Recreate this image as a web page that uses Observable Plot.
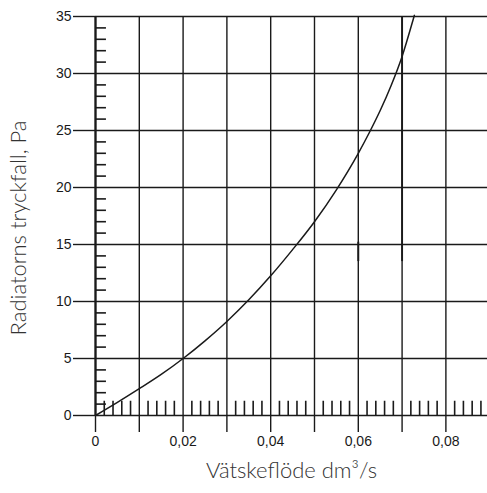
<!DOCTYPE html>
<html>
<head>
<meta charset="utf-8">
<script src="https://cdn.jsdelivr.net/npm/d3@7"></script>
<script src="https://cdn.jsdelivr.net/npm/@observablehq/plot@0.6"></script>
<style>
  html, body { margin: 0; padding: 0; background: #fff; }
  #chart svg { display: block; }
</style>
</head>
<body>
<div id="chart"></div>
<script>
// Curve: flow (dm³/s) -> pressure drop (Pa)
const flow = [0, 0.005, 0.01, 0.015, 0.02, 0.025, 0.03, 0.035, 0.04, 0.045, 0.05, 0.055, 0.06, 0.0625, 0.065, 0.0675, 0.07, 0.0725, 0.0728];
const pressure = [0, 1.15, 2.35, 3.6, 5.0, 6.55, 8.25, 10.15, 12.25, 14.55, 17.0, 19.8, 23.0, 24.8, 26.75, 28.95, 31.5, 34.7, 35.1];

const xMajor = [0, 0.01, 0.02, 0.03, 0.04, 0.05, 0.06, 0.07, 0.08];
const xLabeled = [0, 0.02, 0.04, 0.06, 0.08];
const yMajor = [0, 5, 10, 15, 20, 25, 30, 35];
const yMinor = d3.range(1, 35).filter(v => v % 5 !== 0);
const xMinor = d3.range(1, 45).filter(i => i % 5 !== 0).map(i => i * 0.002);
// heavier stretches of two grid lines seen in the original print
const heavyX = [0.06, 0.07];
const heavyFrom = [13.5, 13.5];
const heavyTo = [15.2, 35];

const xTitle = "Vätskeflöde dm³/s";
const yTitle = "Radiatorns tryckfall, Pa";

const curve = flow.map((f, i) => ({f, p: pressure[i]}));
const heavy = heavyX.map((x, i) => ({x, y1: heavyFrom[i], y2: heavyTo[i]}));
const ink = "#1a1a1a";
const fmt = d => d === 0 ? "0" : d.toFixed(2).replace(".", ",");
const titleFont = "Lato, 'Open Sans', sans-serif";

const chart = Plot.plot({
  width: 487,
  height: 493,
  marginLeft: 95,
  marginRight: 0,
  marginTop: 16,
  marginBottom: 78,
  style: {fontFamily: "'Liberation Sans', Arial, sans-serif", fontSize: "14px", color: ink, background: "#fff"},
  x: {domain: [0, 0.0895], axis: null, label: null},
  y: {domain: [0, 35], axis: null, label: null},
  marks: [
    // grid
    Plot.ruleX(xMajor, {stroke: ink, strokeWidth: 1.4}),
    Plot.ruleY(yMajor, {stroke: ink, strokeWidth: 1.4}),
    Plot.ruleX(heavy, {x: "x", y1: "y1", y2: "y2", stroke: ink, strokeWidth: 1.9}),
    // minor ticks
    Plot.ruleY(yMinor, {x1: 0, x2: 0.0025, stroke: ink, strokeWidth: 1.6}),
    Plot.ruleX(xMinor, {y1: 0, y2: 1.25, stroke: ink, strokeWidth: 1.6}),
    // left axis line heavier
    Plot.ruleX([0], {stroke: ink, strokeWidth: 2.2}),
    // axes with outward ticks
    Plot.axisY(yMajor, {label: null, tickSize: 22, tickPadding: 2, stroke: ink, strokeWidth: 1.4, fill: ink, fontSize: 14}),
    Plot.axisX(xMajor, {label: null, tickSize: 17, tickPadding: 4, stroke: ink, strokeWidth: 1.4, tickFormat: d => xLabeled.includes(d) ? fmt(d) : "", fill: ink, fontSize: 14}),
    // curve
    Plot.line(curve, {x: "f", y: "p", curve: "monotone-x", stroke: ink, strokeWidth: 1.5}),
    // titles
    Plot.text([xTitle], {frameAnchor: "bottom", dy: 62, fontSize: 22, fontFamily: titleFont, fontWeight: 300, fill: "#333"}),
    Plot.text([yTitle], {frameAnchor: "left", textAnchor: "middle", dx: -77, dy: 12, rotate: -90, fontSize: 22, fontFamily: titleFont, fontWeight: 300, fill: "#333"})
  ]
});
document.getElementById("chart").appendChild(chart);
</script>
</body>
</html>
